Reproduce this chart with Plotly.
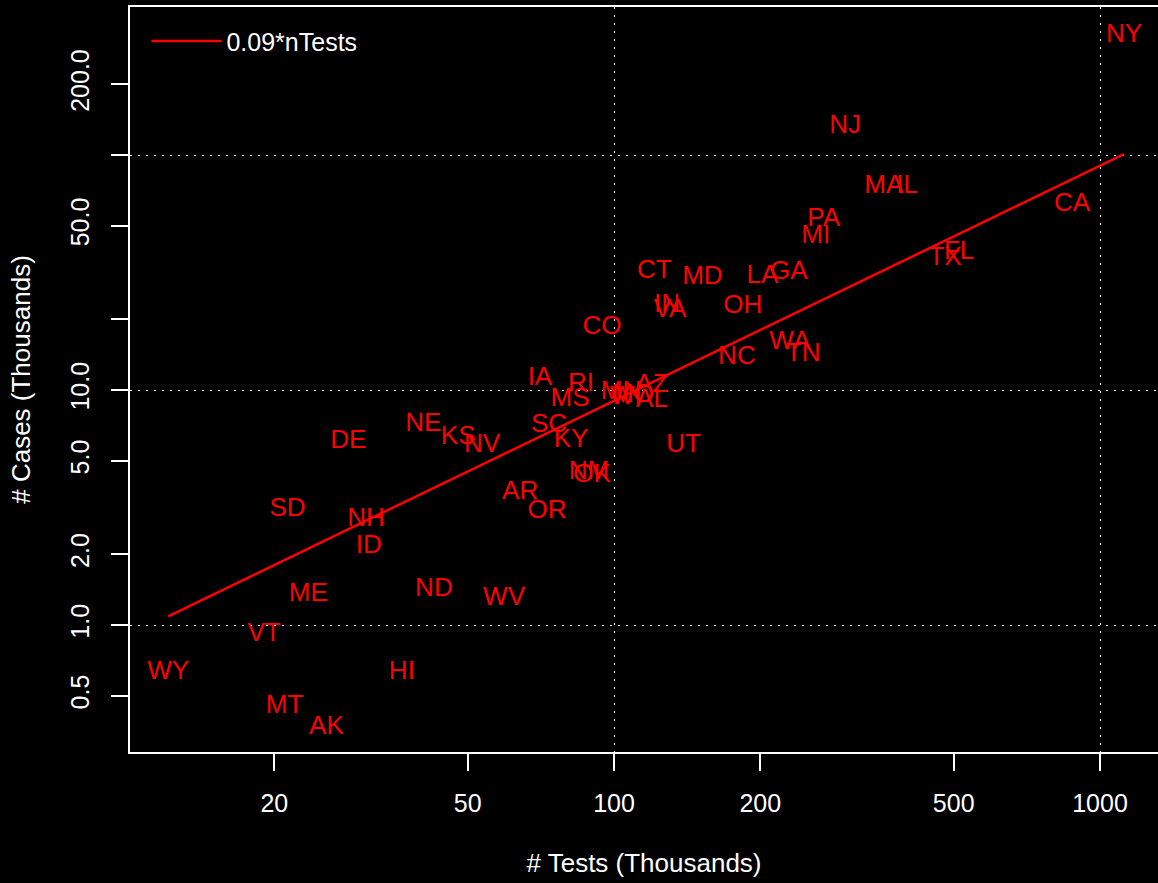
import plotly.graph_objects as go

# tests and cases per state, in thousands
states = ["NY", "NJ", "MA", "IL", "PA", "MI", "CA", "FL", "TX", "LA",
          "GA", "CT", "MD", "IN", "VA", "OH", "CO", "WA", "TN", "NC",
          "IA", "RI", "MS", "MN", "MO", "WI", "AZ", "AL", "SC", "KY",
          "UT", "NM", "OK", "AR", "OR", "DE", "NE", "KS", "NV", "SD",
          "NH", "ID", "ME", "ND", "WV", "VT", "WY", "HI", "MT", "AK"]
tests = [1120, 299, 359, 401, 270, 260, 876, 513, 480, 202,
         229, 121, 152, 128.5, 130.4, 184, 94.5, 230, 245, 179,
         70.4, 85.5, 81.2, 103.4, 109.4, 105.8, 119.7, 119.7, 73.5, 81.6,
         139, 88.8, 90.1, 64.1, 72.8, 28.4, 40.5, 47.8, 53.5, 21.3,
         30.9, 31.3, 23.5, 42.6, 59.4, 19.05, 12.1, 36.6, 21.0, 25.6]
cases = [324, 132.8, 73.8, 73.1, 53.4, 45.2, 61.3, 38.3, 36.1, 30.3,
         31.5, 31.8, 30.0, 22.8, 21.9, 22.6, 18.5, 16.0, 14.2, 13.7,
         11.2, 10.6, 9.07, 9.80, 9.52, 9.25, 10.5, 8.98, 7.03, 6.07,
         5.83, 4.44, 4.31, 3.65, 3.03, 6.01, 7.10, 6.31, 5.78, 3.09,
         2.80, 2.15, 1.355, 1.41, 1.30, 0.907, 0.625, 0.625, 0.452, 0.368]

slope = 0.09
x_ticks = [20, 50, 100, 200, 500, 1000]
y_ticks = [0.5, 1, 2, 5, 10, 20, 50, 100, 200]
y_labels = ["0.5", "1.0", "2.0", "5.0", "10.0", "", "50.0", "", "200.0"]

FONT = "Liberation Sans, Arial, sans-serif"

line_x = sorted(tests)
line_x = [line_x[0], line_x[-1]]
line_y = [slope * v for v in line_x]

fig = go.Figure()

fig.add_trace(go.Scatter(
    x=line_x, y=line_y,
    mode='lines',
    name='0.09*nTests',
    line=dict(color='#FF0000', width=2.5),
))

fig.add_trace(go.Scatter(
    x=tests, y=cases,
    mode='text',
    text=states,
    textposition='middle center',
    textfont=dict(color='#FF0000', size=26, family=FONT),
    showlegend=False,
))

axis_common = dict(
    type='log',
    showline=True, linecolor='white', linewidth=1.5,
    ticks='outside', ticklen=17, tickwidth=1.5, tickcolor='white',
    tickfont=dict(color='white', size=25, family=FONT),
    showgrid=False, zeroline=False,
    minor=dict(dtick=1, showgrid=True, gridcolor='white', gridwidth=1.2,
               griddash='2px,6px', ticks=''),
)

fig.update_layout(
    width=1158, height=883,
    margin=dict(l=130, r=0, t=7, b=131),
    paper_bgcolor='black',
    plot_bgcolor='black',
    font=dict(family=FONT, color='white'),
    xaxis=dict(
        axis_common,
        range=[1.0041, 3.1193],
        tickvals=x_ticks,
        ticktext=[str(v) for v in x_ticks],
        mirror=True,
        ticklabelstandoff=11,
        title=dict(text='# Tests (Thousands)', standoff=38,
                   font=dict(size=26, color='white', family=FONT)),
    ),
    yaxis=dict(
        axis_common,
        range=[-0.5404, 2.6298],
        tickvals=y_ticks,
        ticktext=y_labels,
        tickangle=-90,
        ticklabelstandoff=12,
        title=dict(text='# Cases (Thousands)', standoff=28,
                   font=dict(size=26, color='white', family=FONT)),
    ),
    legend=dict(
        x=0.016, y=0.985, xanchor='left', yanchor='top',
        bgcolor='rgba(0,0,0,0)',
        itemwidth=70,
        font=dict(size=25, color='white', family=FONT),
    ),
    showlegend=True,
)

# drop the page's default white body margin
fig.write_html("out.html", config={'displayModeBar': False},
               post_script="document.body.style.margin='0';")
